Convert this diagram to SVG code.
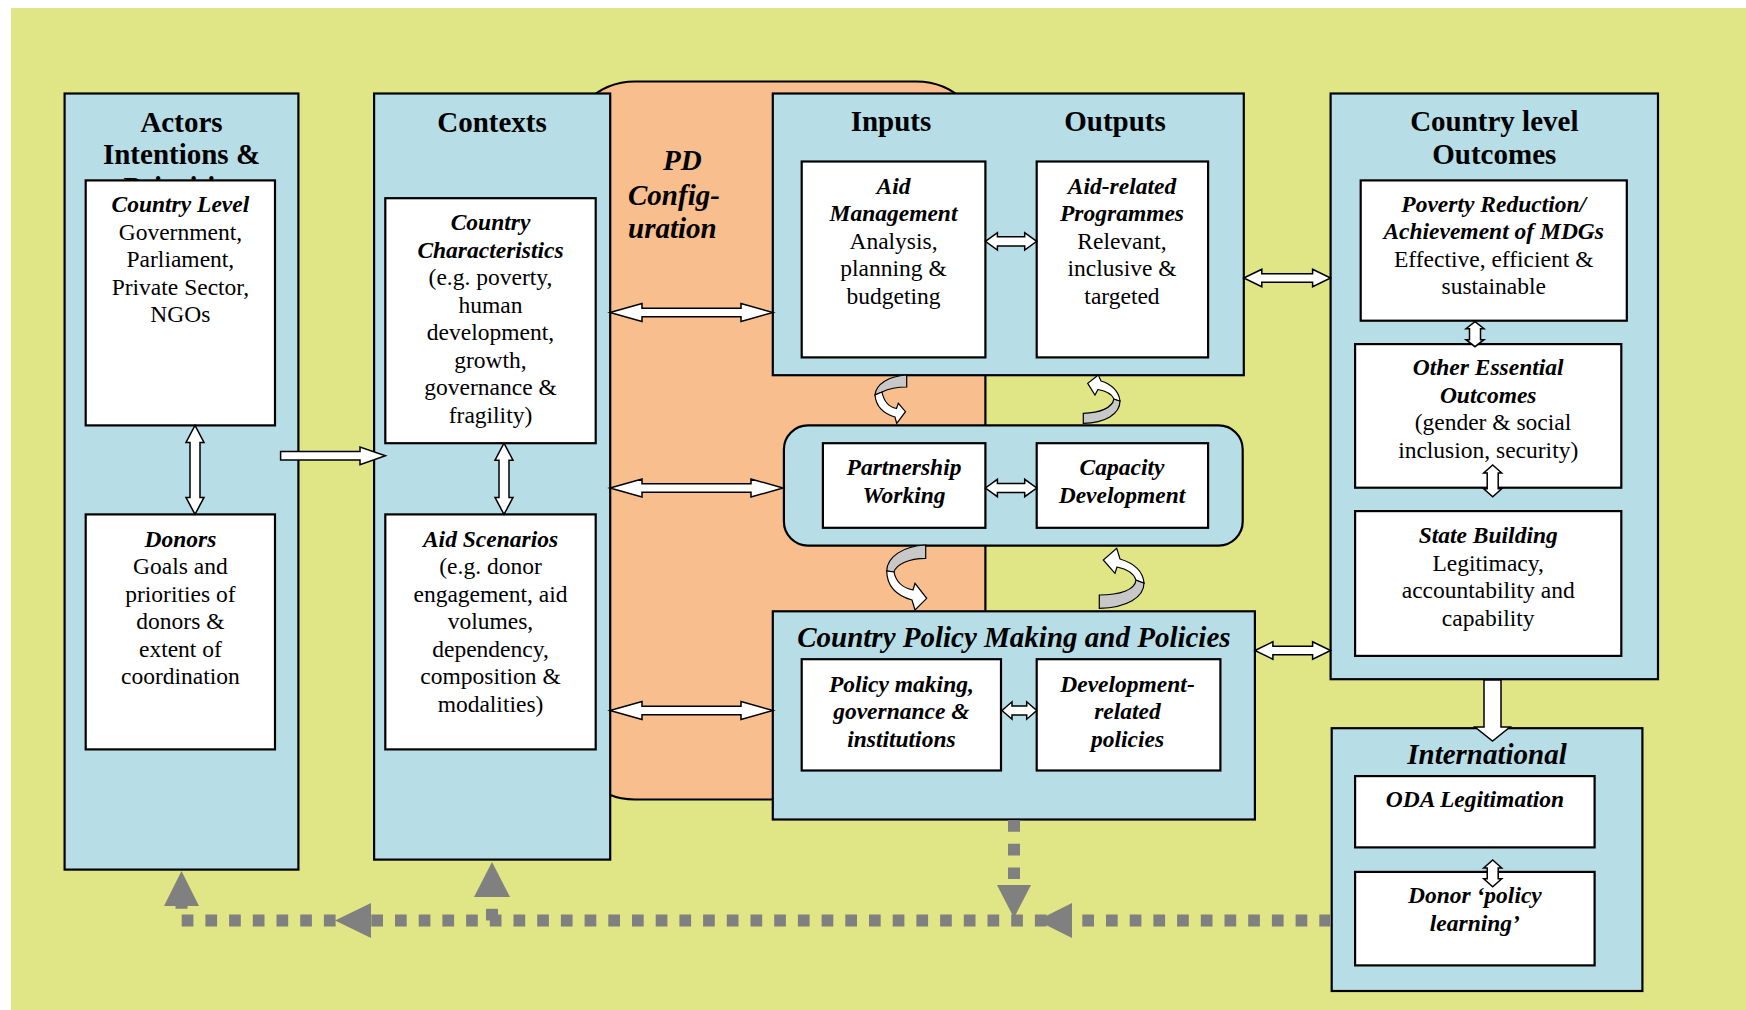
<svg xmlns="http://www.w3.org/2000/svg" width="1746" height="1010" viewBox="0 0 1746 1010">
<style>
.bg{fill:#E0E585}
.blue{fill:#B7DDE6;stroke:#000;stroke-width:2.2}
.white{fill:#fff;stroke:#000;stroke-width:2.2}
.orange{fill:#F8BE8E;stroke:#000;stroke-width:2.2}
text{font-family:"Liberation Serif","Times New Roman",serif;fill:#000;text-anchor:middle}
.title{font-size:29px;font-weight:bold}
.ti{font-size:29px;font-weight:bold;font-style:italic}
.b{font-size:23.5px}
.bi{font-weight:bold;font-style:italic}
.arrow{fill:#fff;stroke:#000;stroke-width:1.5;stroke-linejoin:miter}
.back{fill:#C8C8C8;stroke:#000;stroke-width:1.2}
.front{fill:#fff;stroke:#000;stroke-width:1.2}
.dots{fill:none;stroke:#808080;stroke-width:12;stroke-dasharray:11.7 12}
.ghead{fill:#808080}
</style>
<defs>
<clipPath id="actorsClip"><rect x="64.6" y="93.5" width="233.8" height="86.9"/></clipPath>
</defs>
<rect x="0" y="0" width="1746" height="1010" fill="#fff"/>
<rect class="bg" x="11" y="8" width="1735" height="1002"/>

<g id="pd-config">
<rect class="orange" x="566" y="81.5" width="419.4" height="718" rx="69"/>
<text class="ti" style="text-anchor:start" x="663" y="170">PD</text>
<text class="ti" style="text-anchor:start" x="628" y="205">Config-</text>
<text class="ti" style="text-anchor:start" x="628" y="238">uration</text>
</g>

<g id="actors">
<rect class="blue" x="64.6" y="93.5" width="233.8" height="776.1"/>
<text class="title" x="181.5" y="131.7">Actors</text>
<text class="title" x="181.5" y="164.3">Intentions &amp;</text>
<text class="title" x="181.5" y="197" clip-path="url(#actorsClip)">Priorities</text>
</g>
<g id="country-level">
<rect class="white" x="85.7" y="180.4" width="189.3" height="245"/>
<text class="b" x="180.4" y="212.3"><tspan class="bi">Country Level</tspan><tspan x="180.4" y="239.8">Government,</tspan><tspan x="180.4" y="267.3">Parliament,</tspan><tspan x="180.4" y="294.8">Private Sector,</tspan><tspan x="180.4" y="322.3">NGOs</tspan></text>
</g>
<g id="donors">
<rect class="white" x="85.7" y="514.4" width="189.3" height="235"/>
<text class="b" x="180.4" y="546.7"><tspan class="bi">Donors</tspan><tspan x="180.4" y="574.2">Goals and</tspan><tspan x="180.4" y="601.7">priorities of</tspan><tspan x="180.4" y="629.2">donors &amp;</tspan><tspan x="180.4" y="656.7">extent of</tspan><tspan x="180.4" y="684.2">coordination</tspan></text>
</g>

<g id="contexts">
<rect class="blue" x="374.1" y="93.5" width="236.1" height="766.1"/>
<text class="title" x="492" y="131.7">Contexts</text>
</g>
<g id="country-characteristics">
<rect class="white" x="385.3" y="198.2" width="210.4" height="245"/>
<text class="b" x="490.5" y="230"><tspan class="bi">Country</tspan><tspan class="bi" x="490.5" y="257.5">Characteristics</tspan><tspan x="490.5" y="285">(e.g. poverty,</tspan><tspan x="490.5" y="312.5">human</tspan><tspan x="490.5" y="340">development,</tspan><tspan x="490.5" y="367.5">growth,</tspan><tspan x="490.5" y="395">governance &amp;</tspan><tspan x="490.5" y="422.5">fragility)</tspan></text>
</g>
<g id="aid-scenarios">
<rect class="white" x="385.3" y="514.4" width="210.4" height="235"/>
<text class="b" x="490.5" y="546.7"><tspan class="bi">Aid Scenarios</tspan><tspan x="490.5" y="574.2">(e.g. donor</tspan><tspan x="490.5" y="601.7">engagement, aid</tspan><tspan x="490.5" y="629.2">volumes,</tspan><tspan x="490.5" y="656.7">dependency,</tspan><tspan x="490.5" y="684.2">composition &amp;</tspan><tspan x="490.5" y="711.7">modalities)</tspan></text>
</g>

<g id="inputs-outputs">
<rect class="blue" x="772.8" y="93.5" width="471" height="281.7"/>
<text class="title" x="891" y="131">Inputs</text>
<text class="title" x="1115" y="131">Outputs</text>
</g>
<g id="aid-management">
<rect class="white" x="801.7" y="161.5" width="183.7" height="195.9"/>
<text class="b" x="893.5" y="193.5"><tspan class="bi">Aid</tspan><tspan class="bi" x="893.5" y="221">Management</tspan><tspan x="893.5" y="248.5">Analysis,</tspan><tspan x="893.5" y="276">planning &amp;</tspan><tspan x="893.5" y="303.5">budgeting</tspan></text>
</g>
<g id="aid-related-programmes">
<rect class="white" x="1036.7" y="161.5" width="171.4" height="195.9"/>
<text class="b" x="1122" y="193.5"><tspan class="bi">Aid-related</tspan><tspan class="bi" x="1122" y="221">Programmes</tspan><tspan x="1122" y="248.5">Relevant,</tspan><tspan x="1122" y="276">inclusive &amp;</tspan><tspan x="1122" y="303.5">targeted</tspan></text>
</g>

<g id="partnership-capacity">
<rect class="blue" x="783.9" y="425.4" width="458.8" height="120.2" rx="24"/>
</g>
<g id="partnership-working">
<rect class="white" x="822.9" y="443.2" width="162.5" height="84.6"/>
<text class="b bi" x="904" y="475">Partnership<tspan x="904" y="502.5">Working</tspan></text>
</g>
<g id="capacity-development">
<rect class="white" x="1036.7" y="443.2" width="171.4" height="84.6"/>
<text class="b bi" x="1122" y="475">Capacity<tspan x="1122" y="502.5">Development</tspan></text>
</g>

<g id="country-policy">
<rect class="blue" x="772.8" y="611.3" width="482.1" height="208.2"/>
<text class="ti" x="1013.9" y="646.7">Country Policy Making and Policies</text>
</g>
<g id="policy-making">
<rect class="white" x="801.7" y="659.2" width="199.3" height="111.3"/>
<text class="b bi" x="901.4" y="691.7">Policy making,<tspan x="901.4" y="719.2">governance &amp;</tspan><tspan x="901.4" y="746.7">institutions</tspan></text>
</g>
<g id="development-policies">
<rect class="white" x="1036.7" y="659.2" width="183.7" height="111.3"/>
<text class="b bi" x="1127.5" y="691.7">Development-<tspan x="1127.5" y="719.2">related</tspan><tspan x="1127.5" y="746.7">policies</tspan></text>
</g>

<g id="country-outcomes">
<rect class="blue" x="1330.6" y="93.5" width="327.4" height="585.7"/>
<text class="title" x="1494.3" y="131">Country level</text>
<text class="title" x="1494.3" y="164.3">Outcomes</text>
</g>
<g id="poverty-reduction">
<rect class="white" x="1360.7" y="180.4" width="266.1" height="140.3"/>
<text class="b" x="1493.7" y="211.7"><tspan class="bi">Poverty Reduction/</tspan><tspan class="bi" x="1493.7" y="239.2">Achievement of MDGs</tspan><tspan x="1493.7" y="266.7">Effective, efficient &amp;</tspan><tspan x="1493.7" y="294.2">sustainable</tspan></text>
</g>
<g id="other-outcomes">
<rect class="white" x="1355.1" y="344.1" width="266.2" height="143.6"/>
<text class="b" x="1488.2" y="375"><tspan class="bi">Other Essential</tspan><tspan class="bi" x="1488.2" y="402.5">Outcomes</tspan><tspan x="1493" y="430">(gender &amp; social</tspan><tspan x="1488.2" y="457.5">inclusion, security)</tspan></text>
</g>
<g id="state-building">
<rect class="white" x="1355.1" y="511.1" width="266.2" height="144.8"/>
<text class="b" x="1488.2" y="543.3"><tspan class="bi">State Building</tspan><tspan x="1488.2" y="570.8">Legitimacy,</tspan><tspan x="1488.2" y="598.3">accountability and</tspan><tspan x="1488.2" y="625.8">capability</tspan></text>
</g>

<g id="international">
<rect class="blue" x="1331.7" y="728.2" width="310.7" height="262.8"/>
<text class="ti" x="1487" y="764.3">International</text>
</g>
<g id="oda-legitimation">
<rect class="white" x="1355.1" y="776.1" width="239.5" height="71.3"/>
<text class="b bi" x="1474.9" y="807.3">ODA Legitimation</text>
</g>
<g id="donor-policy-learning">
<rect class="white" x="1355.1" y="871.9" width="239.5" height="93.5"/>
<text class="b bi" x="1474.9" y="903.3">Donor ‘policy<tspan x="1474.9" y="930.8">learning’</tspan></text>
</g>

<g id="connectors">
<path class="arrow" d="M195,425.4 L204,442.4 L200,442.4 L200,497.4 L204,497.4 L195,514.4 L186,497.4 L190,497.4 L190,442.4 L186,442.4 Z"/>
<path class="arrow" d="M504,443.2 L513,460.2 L509,460.2 L509,497.4 L513,497.4 L504,514.4 L495,497.4 L499,497.4 L499,460.2 L495,460.2 Z"/>
<path class="arrow" d="M1475,321.7 L1484,328.7 L1480.5,328.7 L1480.5,339.7 L1484,339.7 L1475,346.7 L1466,339.7 L1469.5,339.7 L1469.5,328.7 L1466,328.7 Z"/>
<path class="arrow" d="M1492.7,465 L1501.7,473 L1498.2,473 L1498.2,488.7 L1501.7,488.7 L1492.7,496.7 L1483.7,488.7 L1487.2,488.7 L1487.2,473 L1483.7,473 Z"/>
<path class="arrow" d="M1492.7,860 L1501.7,868 L1498.2,868 L1498.2,878.7 L1501.7,878.7 L1492.7,886.7 L1483.7,878.7 L1487.2,878.7 L1487.2,868 L1483.7,868 Z"/>
<path class="arrow" d="M610,312.5 L642,303.5 L642,308.3 L741,308.3 L741,303.5 L773,312.5 L741,321.5 L741,316.7 L642,316.7 L642,321.5 Z"/>
<path class="arrow" d="M610,488 L642,479 L642,483.8 L751,483.8 L751,479 L783,488 L751,497 L751,492.2 L642,492.2 L642,497 Z"/>
<path class="arrow" d="M610,710.5 L642,701.5 L642,706.3 L741,706.3 L741,701.5 L773,710.5 L741,719.5 L741,714.7 L642,714.7 L642,719.5 Z"/>
<path class="arrow" d="M985.4,241.3 L997.4,232.6 L997.4,236.7 L1024.7,236.7 L1024.7,232.6 L1036.7,241.3 L1024.7,250 L1024.7,245.9 L997.4,245.9 L997.4,250 Z"/>
<path class="arrow" d="M985.4,488 L997.4,479.3 L997.4,483.4 L1024.7,483.4 L1024.7,479.3 L1036.7,488 L1024.7,496.7 L1024.7,492.6 L997.4,492.6 L997.4,496.7 Z"/>
<path class="arrow" d="M1002,710.5 L1012,701.8 L1012,705.9 L1026.7,705.9 L1026.7,701.8 L1036.7,710.5 L1026.7,719.2 L1026.7,715.1 L1012,715.1 L1012,719.2 Z"/>
<path class="arrow" d="M1243.8,278 L1261.8,269.3 L1261.8,273.7 L1312.6,273.7 L1312.6,269.3 L1330.6,278 L1312.6,286.7 L1312.6,282.3 L1261.8,282.3 L1261.8,286.7 Z"/>
<path class="arrow" d="M1254.9,650.5 L1272.9,641.8 L1272.9,646.2 L1312.6,646.2 L1312.6,641.8 L1330.6,650.5 L1312.6,659.2 L1312.6,654.8 L1272.9,654.8 L1272.9,659.2 Z"/>
<path class="arrow" d="M280.6,451.6 L360,451.6 L360,447 L385.4,455.8 L360,464.6 L360,460 L280.6,460 Z"/>
<path class="arrow" d="M1484,680 L1501,680 L1501,727 L1510,727 L1492.5,741 L1475,727 L1484,727 Z"/>
<path class="back" d="M906.7,375 C889,376 876,384 875,395 L882,392 C888,389 896,387 906.7,387 Z"/>
<path class="front" d="M875,395 C876,407 885,414 895,417 L896.7,423.3 L905.5,411.7 L898.3,403.3 L896.5,408.5 C889,407 884,402 882,392 Z"/>
<path class="back" d="M1083.3,423.3 C1105,423 1120,414 1120,401 L1114,399 C1112,408 1100,413 1083.3,413.3 Z"/>
<path class="front" d="M1120,401 C1119,391 1111,384 1101,381 L1098.3,375 L1087.7,383.3 L1095,395 L1098,389.5 C1106,391 1112,394 1114,399 Z"/>
<path class="back" d="M925.7,545 C903,546 887,557 886.7,571 L894,572 C896,565 908,558.3 925.7,558.3 Z"/>
<path class="front" d="M886.7,571 C887,587 898,596 912,600 L915,610 L926.7,598.3 L915,583.3 L913,590 C903,588 896,582 894,572 Z"/>
<path class="back" d="M1099.3,608.3 C1127,608 1144,597 1144,583 L1136,580 C1135,590 1120,595 1099.3,595 Z"/>
<path class="front" d="M1144,583 C1143,571 1133,563 1120,559 L1116.7,548.3 L1103.3,560 L1115,573.3 L1117,567 C1127,569 1134,574 1136,580 Z"/>
<path class="dots" d="M1331,920.5 H181.5 V906"/>
<path class="dots" d="M492,920.5 V897"/>
<path class="dots" d="M1014,820 V885"/>
<path class="ghead" d="M997,885 L1031,885 L1014,918 Z"/>
<path class="ghead" d="M1072,903 L1072,938 L1037,920.5 Z"/>
<path class="ghead" d="M371,903 L371,938 L335,920.5 Z"/>
<path class="ghead" d="M164,906 L199,906 L181.5,871 Z"/>
<path class="ghead" d="M474,897 L510,897 L492,862 Z"/>
</g>
</svg>
